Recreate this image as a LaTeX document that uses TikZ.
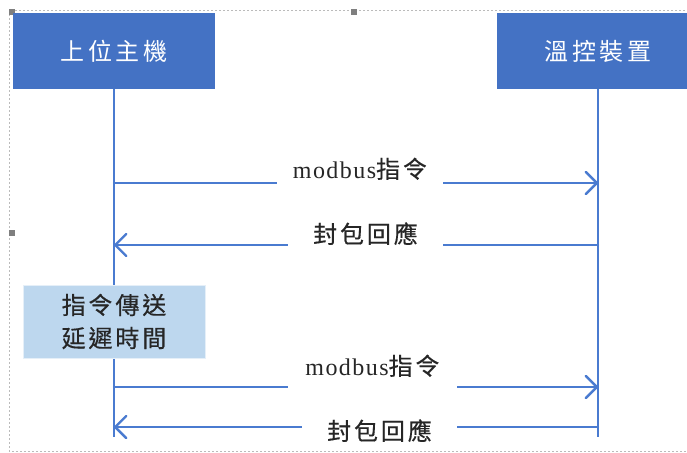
\documentclass[tikz,border=0pt]{standalone}
\usepackage{fontspec}
\setmainfont{Liberation Serif}
\newfontfamily\cjk[LetterSpace=14]{Noto Sans CJK TC}
\newfontfamily\cjkb[LetterSpace=12,FakeBold=0.4]{Noto Sans CJK TC}
\newfontfamily\lat[LetterSpace=6]{Liberation Serif}
\usetikzlibrary{arrows.meta}
\definecolor{boxblue}{HTML}{4472C4}
\definecolor{lineblue}{HTML}{4A7BD0}
\definecolor{paleblue}{HTML}{BDD7EE}
\definecolor{inkc}{HTML}{262626}
\definecolor{framegray}{HTML}{BBBBBB}
\definecolor{handlegray}{HTML}{7F7F7F}
\begin{document}
\begin{tikzpicture}[x=1pt,y=-1pt,
  titlebox/.style={fill=boxblue, text=white, minimum width=202pt, minimum height=76pt, inner sep=0pt, font=\fontsize{24}{28}\selectfont\cjk},
  lifeline/.style={draw=lineblue, line width=2.4pt},
  msg/.style={draw=lineblue, line width=2.4pt, line cap=round, line join=round, -{Straight Barb[length=11pt,width=22pt,line cap=round,line join=round]}},
  msglabel/.style={fill=white, inner sep=0pt, anchor=base, text=inkc, font=\fontsize{24}{28}\selectfont, text height=22pt},
  delaybox/.style={fill=paleblue, draw=white!60!paleblue, line width=0.6pt, minimum width=182pt, minimum height=73pt, inner sep=0pt, align=center, text=inkc, font=\fontsize{24}{33}\selectfont\cjkb},
  frame/.style={draw=framegray, line width=0.8pt, dash pattern=on 2pt off 2pt},
  handle/.style={fill=handlegray, draw=none, minimum size=6pt, inner sep=0pt}
]
\useasboundingbox (0,0) rectangle (687,452);
\clip (0,0) rectangle (687,452);
% selection frame
\draw[frame] (9,10) rectangle (700,451);
\node[handle] (h1) at (12,12) {};
\node[handle] (h2) at (354,12) {};
\node[handle] (h3) at (12,233) {};
% header boxes
\node[titlebox] (host) at (114,51) {上位主機};
\node[titlebox] (dev) at (598,51) {溫控裝置};
\coordinate (hostEnd) at (114,437);
\coordinate (devEnd) at (598,437);
\draw[lifeline] (host.south) -- (hostEnd);
\draw[lifeline] (dev.south) -- (devEnd);
% messages
\coordinate (m1a) at (114,183); \coordinate (m1b) at (598,183);
\coordinate (m2a) at (598,245); \coordinate (m2b) at (114,245);
\coordinate (m3a) at (114,387); \coordinate (m3b) at (598,387);
\coordinate (m4a) at (598,427); \coordinate (m4b) at (114,427);
\draw[msg] (m1a) -- (m1b);
\draw[msg] (m2a) -- (m2b);
\draw[msg] (m3a) -- (m3b);
\draw[msg] (m4a) -- (m4b);
\node[msglabel, minimum width=166pt, text depth=8pt] (l1) at (360,178) {{\lat modbus}{\cjkb 指令}};
\node[msglabel, minimum width=155pt, text depth=5pt] (l2) at (365.5,243) {\cjkb 封包回應};
\node[msglabel, minimum width=169pt, text depth=15pt] (l3) at (372.5,375) {{\lat modbus}{\cjkb 指令}};
\node[msglabel, minimum width=155pt, text depth=3pt] (l4) at (379.5,440) {\cjkb 封包回應};
% delay box
\node[delaybox] (delay) at (114,321.5) {指令傳送\\延遲時間};
\end{tikzpicture}
\end{document}
